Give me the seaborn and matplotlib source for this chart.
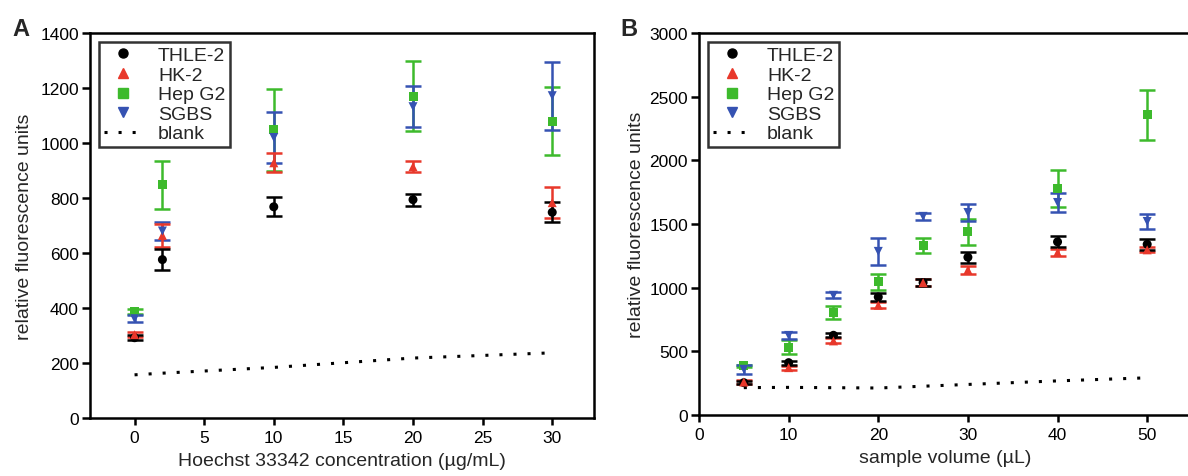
import numpy as np
import pandas as pd
import matplotlib
matplotlib.use("Agg")
import matplotlib.pyplot as plt
from matplotlib.lines import Line2D
import seaborn as sns

sns.set_theme(style="ticks")
plt.rcParams['font.family'] = ['Liberation Sans', 'DejaVu Sans']

series = ["THLE-2", "HK-2", "Hep G2", "SGBS"]
colors = {"THLE-2": "#000000", "HK-2": "#E8382B", "Hep G2": "#3DBA2C", "SGBS": "#3552B2"}
markers = {"THLE-2": "o", "HK-2": "^", "Hep G2": "s", "SGBS": "v"}

# Panel A
conc_a = [0, 2, 10, 20, 30]
thle_a = [292, 576, 768, 794, 748]
thle_a_err = [10, 38, 35, 22, 37]
hk_a = [303, 664, 928, 914, 783]
hk_a_err = [10, 42, 35, 20, 57]
hep_a = [388, 848, 1048, 1170, 1079]
hep_a_err = [10, 88, 150, 128, 123]
sgbs_a = [361, 680, 1020, 1132, 1172]
sgbs_a_err = [12, 32, 93, 74, 124]
blank_a = [157, 163, 184, 218, 237]

# Panel B
vol_b = [5, 10, 15, 20, 25, 30, 40, 50]
thle_b = [254, 411, 626, 927, 1040, 1239, 1360, 1341]
thle_b_err = [12, 15, 15, 30, 25, 45, 43, 45]
hk_b = [259, 372, 582, 862, 1040, 1140, 1276, 1297]
hk_b_err = [15, 15, 20, 25, 25, 30, 30, 20]
hep_b = [385, 534, 804, 1045, 1333, 1438, 1779, 2358]
hep_b_err = [10, 55, 50, 65, 60, 100, 145, 195]
sgbs_b = [359, 625, 940, 1285, 1560, 1590, 1669, 1520]
sgbs_b_err = [35, 30, 25, 105, 30, 70, 75, 60]
vol_blank = [5, 10, 20, 30, 40, 50]
blank_b = [215, 217, 212, 240, 268, 292]

def make_df(x, vals, errs):
    rows = []
    for s in series:
        for xi, v, e in zip(x, vals[s], errs[s]):
            rows.append({"x": xi, "y": v, "err": e, "series": s})
    return pd.DataFrame(rows)

df_a = make_df(conc_a, {"THLE-2": thle_a, "HK-2": hk_a, "Hep G2": hep_a, "SGBS": sgbs_a},
               {"THLE-2": thle_a_err, "HK-2": hk_a_err, "Hep G2": hep_a_err, "SGBS": sgbs_a_err})
df_b = make_df(vol_b, {"THLE-2": thle_b, "HK-2": hk_b, "Hep G2": hep_b, "SGBS": sgbs_b},
               {"THLE-2": thle_b_err, "HK-2": hk_b_err, "Hep G2": hep_b_err, "SGBS": sgbs_b_err})

W, H = 1188, 477
fig = plt.figure(figsize=(W / 100, H / 100), dpi=100)
axA = fig.add_axes([90 / W, 1 - 419 / H, (594 - 90) / W, (419 - 34) / H])
axB = fig.add_axes([699 / W, 1 - 416 / H, (1192 - 699) / W, (416 - 34) / H])

DOT = (0, (1.0, 3.6))

def draw(ax, df, bx, by):
    order = ["Hep G2", "SGBS", "HK-2", "THLE-2"]
    for s in order:
        d = df[df.series == s]
        ax.errorbar(d.x, d.y, yerr=d.err, fmt="none", ecolor=colors[s],
                    elinewidth=1.8, capsize=6, capthick=1.8, zorder=2)
    sns.scatterplot(data=df, x="x", y="y", hue="series", style="series",
                    palette=colors, markers=markers, s=42, edgecolor="none",
                    ax=ax, legend=False, zorder=3)
    sns.lineplot(x=bx, y=by, ax=ax, color="black", linestyle=DOT,
                 linewidth=2.2, zorder=1)
    for sp in ax.spines.values():
        sp.set_linewidth(1.8)
        sp.set_color("black")
    ax.tick_params(axis="x", direction="out", length=5, width=1.8,
                   labelsize=12.5, colors="black", pad=4)
    ax.tick_params(axis="y", direction="out", length=6, width=1.8,
                   labelsize=12.5, colors="black", pad=2)
    handles = [Line2D([], [], linestyle="none", marker=markers[s], color=colors[s],
                      markersize=6.5) for s in series]
    handles.append(Line2D([], [], color="black", linestyle=DOT, linewidth=2.2))
    leg = ax.legend(handles, series + ["blank"], loc="upper left", fontsize=14,
                    frameon=True, fancybox=False, edgecolor="black",
                    handlelength=2.0, handletextpad=0.8, labelspacing=0.1,
                    borderpad=0.25, borderaxespad=0.45)
    leg.get_frame().set_linewidth(1.8)

draw(axA, df_a, conc_a, blank_a)
axA.set_xlim(-3.2, 33)
axA.set_ylim(0, 1400)
axA.set_xticks([0, 5, 10, 15, 20, 25, 30])
axA.set_yticks(range(0, 1401, 200))
axA.set_xlabel("Hoechst 33342 concentration (µg/mL)", fontsize=14, labelpad=5)
axA.set_ylabel("relative fluorescence units", fontsize=14, labelpad=5)

draw(axB, df_b, vol_blank, blank_b)
axB.set_xlim(0, 55)
axB.set_ylim(0, 3000)
axB.set_xticks([0, 10, 20, 30, 40, 50])
axB.set_yticks(range(0, 3001, 500))
axB.set_xlabel("sample volume (µL)", fontsize=14, labelpad=5)
axB.set_ylabel("relative fluorescence units", fontsize=14, labelpad=3)

fig.text(12 / W, 1 - 30 / H, "A", fontsize=17, fontweight="bold", va="center")
fig.text(620 / W, 1 - 30 / H, "B", fontsize=17, fontweight="bold", va="center")

fig.savefig("out.png", dpi=100)
